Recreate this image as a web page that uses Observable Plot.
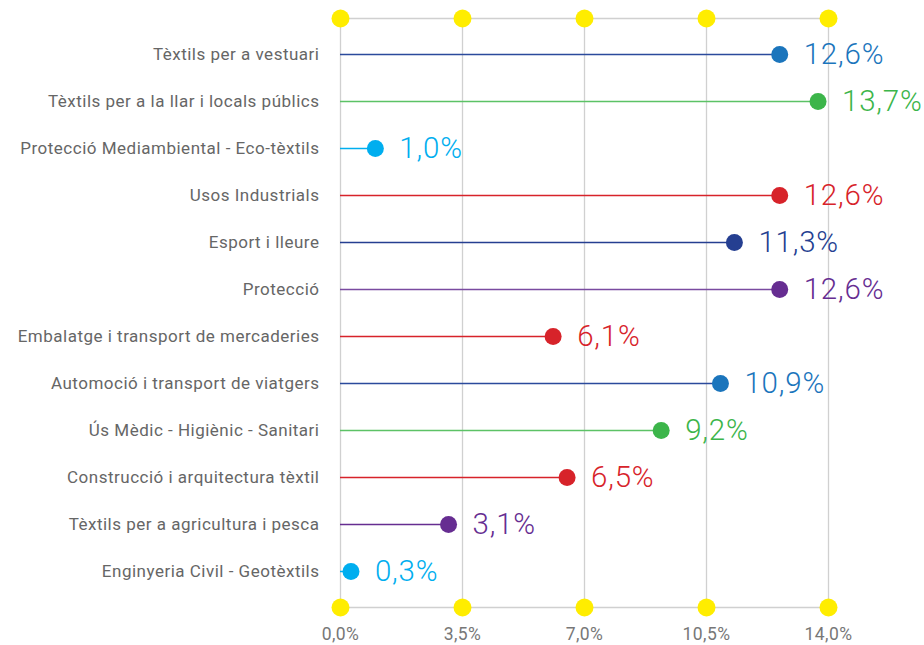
<!DOCTYPE html>
<html>
<head>
<meta charset="utf-8">
<script src="https://cdn.jsdelivr.net/npm/d3@7"></script>
<script src="https://cdn.jsdelivr.net/npm/@observablehq/plot@0.6"></script>
<style>
  html, body { margin: 0; padding: 0; background: #fff; }
  #chart { width: 924px; height: 645px; }
  #chart g[aria-label="y-axis tick label"] text { letter-spacing: 0.5px; }
  #chart g[aria-label="x-axis tick label"] text { letter-spacing: 0.4px; }
  #chart g[aria-label="text"] text { letter-spacing: 0.8px; }
</style>
</head>
<body>
<div id="chart"></div>
<script>
const categories = [
  "Tèxtils per a vestuari",
  "Tèxtils per a la llar i locals públics",
  "Protecció Mediambiental - Eco-tèxtils",
  "Usos Industrials",
  "Esport i lleure",
  "Protecció",
  "Embalatge i transport de mercaderies",
  "Automoció i transport de viatgers",
  "Ús Mèdic - Higiènic - Sanitari",
  "Construcció i arquitectura tèxtil",
  "Tèxtils per a agricultura i pesca",
  "Enginyeria Civil - Geotèxtils"
];
const values = [12.6, 13.7, 1.0, 12.6, 11.3, 12.6, 6.1, 10.9, 9.2, 6.5, 3.1, 0.3];
const dotColors = ["#1b75bc", "#3cb54a", "#00aeef", "#d7232a", "#253f91", "#662d91", "#d7232a", "#1b75bc", "#3cb54a", "#d7232a", "#662d91", "#00aeef"];
const stemColors = ["#2b4a9c", "#5cc266", "#00aeef", "#d7232a", "#253f91", "#7a4aa0", "#d7232a", "#2b4a9c", "#5cc266", "#d7232a", "#662d91", "#00aeef"];
const ticks = [0, 3.5, 7, 10.5, 14];

const data = categories.map((c, i) => ({cat: c, value: values[i], dot: dotColors[i], stem: stemColors[i]}));
const fmt = v => d3.format(".1f")(v).replace(".", ",") + "%";

const chart = Plot.plot({
  width: 924,
  height: 645,
  marginLeft: 340,
  marginRight: 96,
  marginTop: 18,
  marginBottom: 38,
  style: {fontFamily: "Roboto, 'Liberation Sans', sans-serif", background: "#fff"},
  x: {domain: [0, 14], ticks: ticks},
  y: {type: "point", domain: categories, range: [54, 571], padding: 0},
  marks: [
    Plot.ruleX(ticks, {x: d => d, stroke: "#d0d0d0", strokeWidth: 1.3}),
    Plot.frame({anchor: "top", stroke: "#d0d0d0", strokeWidth: 1.3}),
    Plot.frame({anchor: "bottom", stroke: "#d0d0d0", strokeWidth: 1.3}),
    Plot.dot(ticks, {x: d => d, frameAnchor: "top", r: 9, fill: "#ffed00", stroke: "none"}),
    Plot.dot(ticks, {x: d => d, frameAnchor: "bottom", r: 9, fill: "#ffed00", stroke: "none"}),
    Plot.ruleY(data, {y: "cat", x1: 0, x2: "value", stroke: d => d.stem, strokeWidth: 1.5}),
    Plot.dot(data, {x: "value", y: "cat", r: 8.5, fill: d => d.dot, stroke: "none"}),
    Plot.text(data, {x: "value", y: "cat", text: d => fmt(d.value), fill: d => d.dot, dx: 24, textAnchor: "start", fontSize: 29.5, fontWeight: 300}),
    Plot.axisY({tickSize: 0, tickPadding: 21, fontSize: 17, color: "#666", label: null}),
    Plot.axisX({anchor: "bottom", ticks: ticks, tickSize: 0, tickPadding: 20, fontSize: 17.5, color: "#777", tickFormat: fmt, label: null})
  ]
});
document.getElementById("chart").append(chart);
</script>
</body>
</html>
